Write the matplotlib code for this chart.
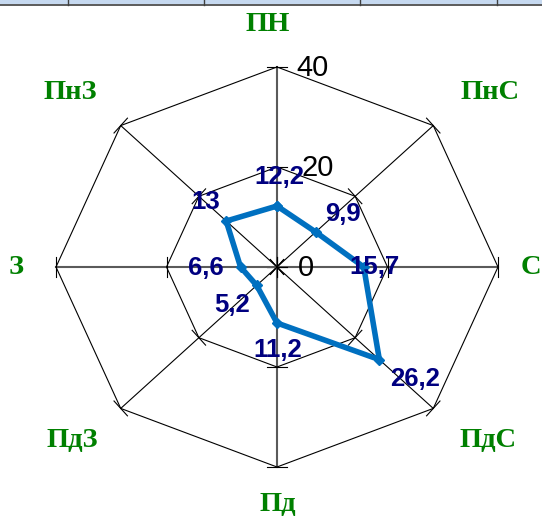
import matplotlib
matplotlib.use("Agg")
import matplotlib.pyplot as plt
from matplotlib.lines import Line2D
from matplotlib.patches import Rectangle
import numpy as np

# wind directions and frequencies
directions = ["ПН", "ПнС", "С", "ПдС", "Пд", "ПдЗ", "З", "ПнЗ"]
values = [12.2, 9.9, 15.7, 26.2, 11.2, 5.2, 6.6, 13]
value_labels = ["12,2", "9,9", "15,7", "26,2", "11,2", "5,2", "6,6", "13"]
rings = [20, 40]
tick_values = [0, 20, 40]

W, H = 542, 517
CX, CY = 277, 267          # centre of the rose in pixels (from top-left)
SX, SY = 221 / 40, 200 / 40  # pixels per unit, horizontally / vertically

fig = plt.figure(figsize=(W / 100, H / 100), dpi=100)
ax = fig.add_axes([0, 0, 1, 1])
ax.set_xlim(-CX / SX, (W - CX) / SX)
ax.set_ylim(-(H - CY) / SY, CY / SY)
ax.axis("off")

theta = np.deg2rad(np.arange(len(directions)) * 45)
ux, uy = np.sin(theta), np.cos(theta)

# ---- grid: spokes, rings, ticks -------------------------------------------
rmax = rings[-1]
for i in range(len(directions)):
    axis_aligned = i % 2 == 0
    ax.plot([0, rmax * ux[i]], [0, rmax * uy[i]],
            color="#5a5a5a" if axis_aligned else "black",
            lw=1.5 if axis_aligned else 0.8, zorder=1)
    # perpendicular tick marks, 10 px each side
    px, py = ux[i] * SX, uy[i] * SY
    n = np.hypot(px, py)
    tx, ty = -py / n * 10 / SX, px / n * 10 / SY
    for r in tick_values:
        x0, y0 = r * ux[i], r * uy[i]
        ax.plot([x0 - tx, x0 + tx], [y0 - ty, y0 + ty], color="black",
                lw=0.8, zorder=1)

for r in rings:
    xs = np.append(r * ux, r * ux[0])
    ys = np.append(r * uy, r * uy[0])
    ax.plot(xs, ys, color="black", lw=0.8, zorder=1)

# value-axis tick labels
tick_dx = [21, 24, 19]
for v, dx in zip(tick_values, tick_dx):
    ax.annotate(str(v), (0, v), xytext=(dx, -1), textcoords="offset pixels",
                ha="left", va="center", fontsize=21, color="black",
                family="Liberation Sans", zorder=3)

# ---- data polygon ---------------------------------------------------------
vals = np.array(values)
xs = np.append(vals * ux, vals[0] * ux[0])
ys = np.append(vals * uy, vals[0] * uy[0])
ax.plot(xs, ys, color="#0070c0", lw=4, marker="D", markersize=5,
        solid_joinstyle="miter", zorder=4)

label_offsets = [(2, 29), (27, 18), (11, 0), (36, -19),
                 (1, -27), (-25, -20), (-35, -1), (-20, 19)]
for i, (lab, off) in enumerate(zip(value_labels, label_offsets)):
    ax.annotate(lab, (vals[i] * ux[i], vals[i] * uy[i]), xytext=off,
                textcoords="offset pixels", ha="center", va="center",
                fontsize=18.5, fontweight="bold", color="#000080",
                family="Liberation Sans", zorder=5)

# ---- direction labels -----------------------------------------------------
label_xy = [(268, 24), (490, 92), (531, 268), (488, 441),
            (278, 504), (72, 441), (16, 268), (70, 92)]
for name, (lx, ly) in zip(directions, label_xy):
    ax.text((lx - CX) / SX, (CY - ly) / SY, name, ha="center", va="center",
            fontsize=20.5, fontweight="bold", color="#008000",
            family="Liberation Serif", zorder=5)

# ---- cut-off spreadsheet header row at the top ----------------------------
fig.add_artist(Rectangle((0, 1 - 4 / H), 1, 4 / H, transform=fig.transFigure,
                         facecolor="#c6d9f0", edgecolor="none"))
fig.add_artist(Line2D([0, 1], [1 - 4.5 / H] * 2, transform=fig.transFigure,
                      color="#404040", lw=1.2))
for xd in [68, 204, 360, 497]:
    fig.add_artist(Line2D([xd / W] * 2, [1 - 4.5 / H, 1],
                          transform=fig.transFigure, color="#404040", lw=1))

fig.savefig("out.png", dpi=100)
